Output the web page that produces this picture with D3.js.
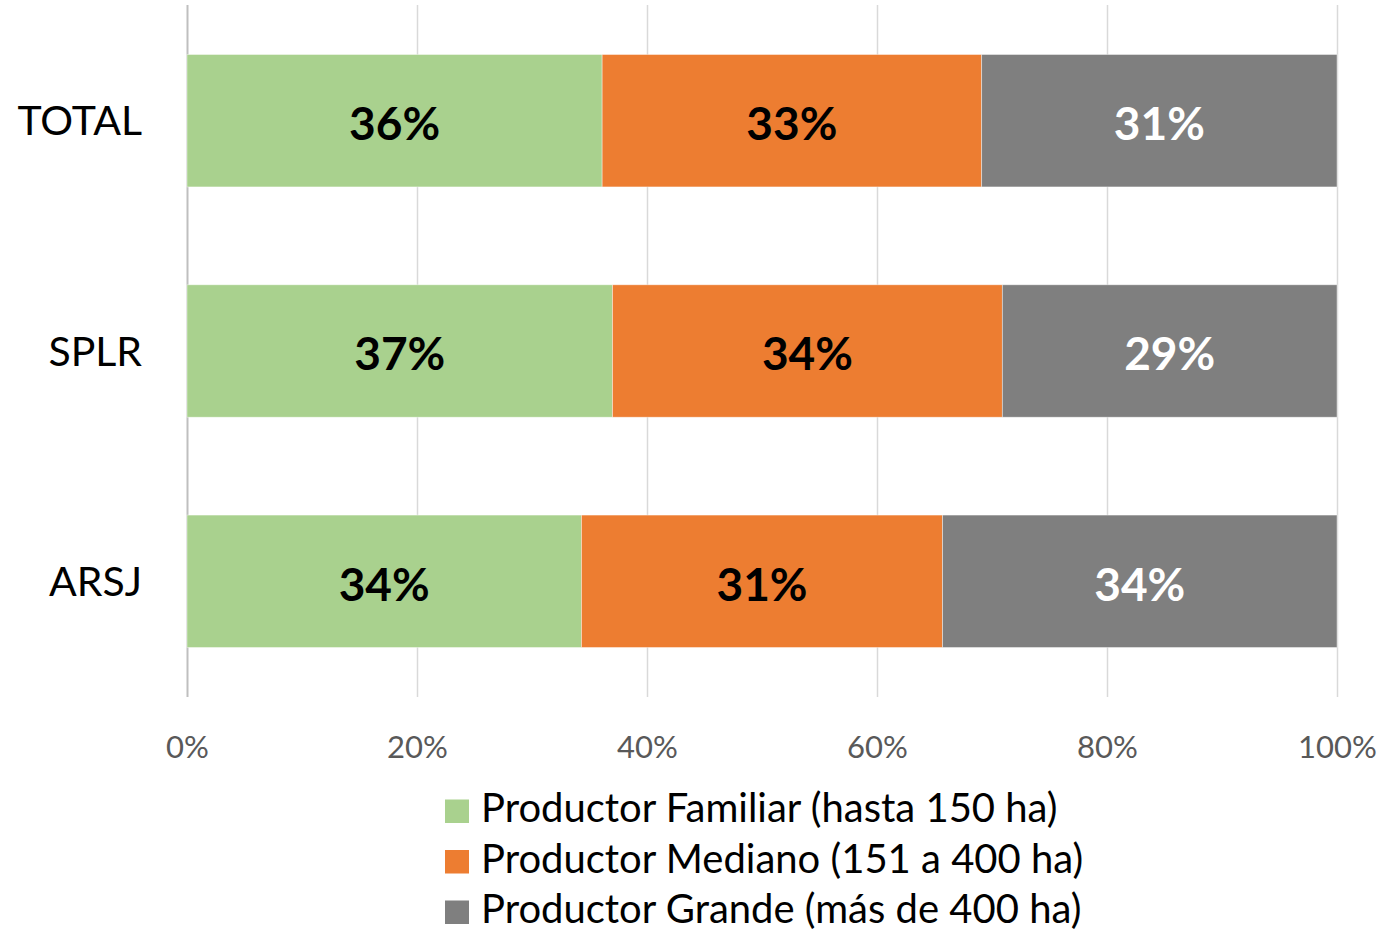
<!DOCTYPE html>
<html><head><meta charset="utf-8">
<script src="https://cdn.jsdelivr.net/npm/d3@7"></script>
<style>html,body{margin:0;padding:0;background:#fff;}svg{display:block;}</style>
</head><body>
<svg id="chart" width="1384" height="932"></svg>
<script>
const categories = ["TOTAL", "SPLR", "ARSJ"];
const seriesNames = ["Productor Familiar (hasta 150 ha)", "Productor Mediano (151 a 400 ha)", "Productor Grande (más de 400 ha)"];
const familiar = [36.1, 37.0, 34.3];
const mediano = [33.0, 33.9, 31.4];
const grande = [30.9, 29.1, 34.3];
const tickValues = [0, 20, 40, 60, 80, 100];
const colors = ["#A9D18E", "#ED7D31", "#7F7F7F"];
const labelColors = ["#000000", "#000000", "#FFFFFF"];

const FONT = "Lato, 'Liberation Sans', sans-serif";
const svg = d3.select("#chart");
const x = d3.scaleLinear().domain([0, 100]).range([187, 1337]);
const y = d3.scaleBand().domain(categories).range([5, 697]).paddingInner(0.425).paddingOuter(0.215);

const rows = categories.map((c, i) => ({cat: c, familiar: familiar[i], mediano: mediano[i], grande: grande[i]}));
const keys = ["familiar", "mediano", "grande"];
const stacked = d3.stack().keys(keys)(rows);

// gridlines
svg.append("g").selectAll("line").data(tickValues).join("line")
  .attr("x1", d => x(d) + 0.5).attr("x2", d => x(d) + 0.5)
  .attr("y1", 5).attr("y2", 697)
  .attr("stroke", d => d === 0 ? "#BFBFBF" : "#D9D9D9").attr("stroke-width", d => d === 0 ? 2 : 1.5);

// bars
const layers = svg.append("g").selectAll("g").data(stacked).join("g")
  .attr("fill", (d, i) => colors[i]);
layers.selectAll("rect").data(d => d).join("rect")
  .attr("x", d => x(d[0])).attr("width", d => x(d[1]) - x(d[0]))
  .attr("y", d => y(d.data.cat)).attr("height", y.bandwidth())
  .attr("stroke", "#ffffff").attr("stroke-opacity", 0.5).attr("stroke-width", 0.8);

// data labels
stacked.forEach((layer, i) => {
  svg.append("g").selectAll("text").data(layer).join("text")
    .attr("x", d => (x(d[0]) + x(d[1])) / 2)
    .attr("y", d => y(d.data.cat) + y.bandwidth() / 2)
    .attr("dy", "0.42em")
    .attr("text-anchor", "middle")
    .attr("font-family", FONT).attr("font-weight", "bold").attr("font-size", 46)
    .attr("fill", labelColors[i])
    .text(d => Math.round(d[1] - d[0]) + "%");
});

// y axis labels
svg.append("g").selectAll("text").data(categories).join("text")
  .attr("x", 142).attr("y", d => y(d) + y.bandwidth() / 2)
  .attr("dy", "0.36em").attr("text-anchor", "end")
  .attr("font-family", FONT).attr("font-size", 41).attr("fill", "#000")
  .text(d => d);

// x axis tick labels
const xAxis = d3.axisBottom(x).tickValues(tickValues).tickFormat(d => d + "%").tickSize(0).tickPadding(0);
const gx = svg.append("g").attr("transform", "translate(0,737)").call(xAxis);
gx.select(".domain").remove();
gx.selectAll("text").attr("font-family", FONT).attr("font-size", 31).attr("fill", "#595959").attr("dy", "0.36em").attr("y", 10);

// legend
const legend = svg.append("g").selectAll("g").data(seriesNames).join("g")
  .attr("transform", (d, i) => `translate(445, ${811 + i * 50.5})`);
legend.append("rect").attr("x", 0).attr("y", -11.5).attr("width", 24).attr("height", 23.5)
  .attr("fill", (d, i) => colors[i]);
legend.append("text").attr("x", 36).attr("y", 0).attr("dy", "0.275em")
  .attr("font-family", FONT).attr("font-size", 40).attr("fill", "#000")
  .text(d => d);
</script>
</body></html>
